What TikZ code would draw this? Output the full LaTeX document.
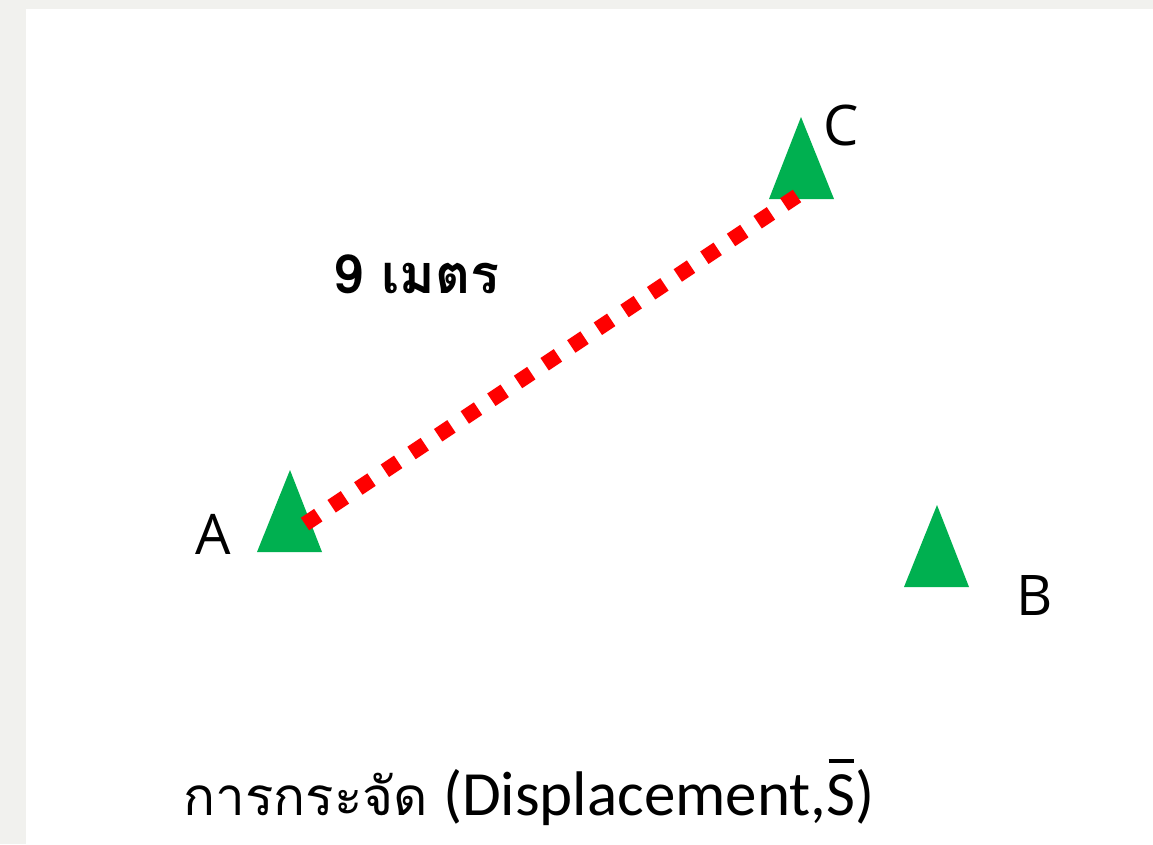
\documentclass[tikz,border=0pt]{standalone}
\usepackage{fontspec}
\setmainfont{Open Sans}
\newfontfamily\thaifont[Script=Thai]{Loma}
\newfontfamily\latinlight{Carlito}
\definecolor{bggray}{HTML}{F1F1EE}
\definecolor{mkgreen}{HTML}{00B050}
\definecolor{lnred}{HTML}{FF0000}
\begin{document}
\begin{tikzpicture}[x=1pt,y=-1pt,
  marker/.style={fill=mkgreen},
  ptlabel/.style={font=\fontsize{56}{60}\selectfont, inner sep=0pt},
  redline/.style={draw=lnred, line width=15pt, dash pattern=on 16pt off 16pt},
]
\useasboundingbox (0,0) rectangle (1153,844);
\fill[bggray] (0,0) rectangle (1153,844);
\fill[white] (26,9) rectangle (1153,844);
% markers
\fill[marker] (290,470) -- (322,552) -- (257,552) -- cycle;
\fill[marker] (801,117) -- (834,199) -- (769,199) -- cycle;
\fill[marker] (937,505) -- (969,587) -- (904,587) -- cycle;
\coordinate (pa) at (305,524);
\coordinate (pc) at (797,196);
\draw[redline] (pa) -- (pc);
% labels
\node[ptlabel] (la) at (213,534) {A};
\node[ptlabel] (lb) at (1035,595) {B};
\node[ptlabel] (lc) at (841,125) {C};
\node[anchor=base west, inner sep=0pt, font=\thaifont\bfseries\fontsize{54}{58}\selectfont] (dist) at (333,293) {9 เมตร};
\node[anchor=base west, inner sep=0pt] (title) at (183,815) {{\thaifont\fontsize{53}{60}\selectfont การกระจัด}\hspace{15pt}{\latinlight\fontsize{63}{70}\selectfont (Displacement,\makebox[0pt][l]{\hspace{2pt}\rule[52pt]{25pt}{4pt}}S)}};
\end{tikzpicture}
\end{document}
